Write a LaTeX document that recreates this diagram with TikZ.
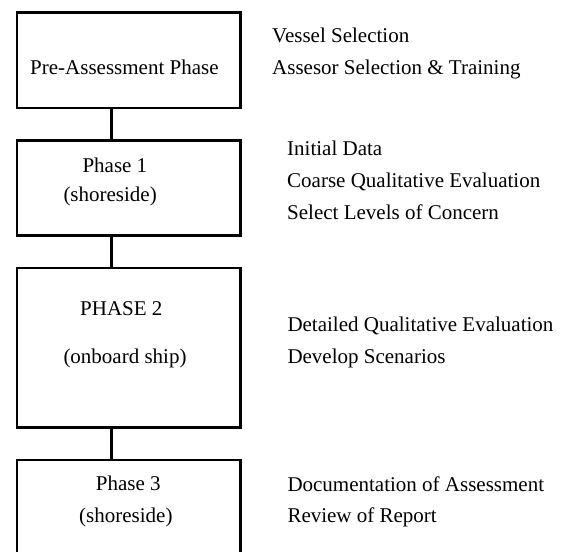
\documentclass[tikz,border=0pt]{standalone}
\usepackage{fontspec}
\setmainfont{Liberation Serif}
\begin{document}
\begin{tikzpicture}[x=1pt,y=-1pt,
  box/.style={draw, line width=2.5pt, inner sep=0pt, minimum width=223.8pt, anchor=north west},
  txt/.style={inner sep=0pt, anchor=base west, font=\fontsize{21}{25}\selectfont},
  link/.style={line width=2.5pt}]
\useasboundingbox (0,0) rectangle (566,552);
\node[box, minimum height=95.5pt] (b1) at (15.5,11) {};
\node[box, minimum height=95.3pt] (b2) at (15.5,139) {};
\node[box, minimum height=159.6pt] (b3) at (15.5,266.7) {};
\node[box, minimum height=110pt] (b4) at (15.5,458.7) {};
\coordinate (cx) at (111.3,0);
\draw[link] (b1.south -| cx) -- (b2.north -| cx);
\draw[link] (b2.south -| cx) -- (b3.north -| cx);
\draw[link] (b3.south -| cx) -- (b4.north -| cx);
% box texts
\node[txt] (t1) at (30,74) {Pre-Assessment Phase};
\node[txt] (t2a) at (82.3,172) {Phase 1};
\node[txt] (t2b) at (63.3,201.7) {(shoreside)};
\node[txt] (t3a) at (80,315.7) {PHASE 2};
\node[txt] (t3b) at (63.3,363.3) {(onboard ship)};
\node[txt] (t4a) at (95.7,490.3) {Phase 3};
\node[txt] (t4b) at (79,522) {(shoreside)};
% side texts
\node[txt] (s1a) at (272,42.7) {Vessel Selection};
\node[txt] (s1b) at (272,74.7) {Assesor Selection \& Training};
\node[txt] (s2a) at (287,155) {Initial Data};
\node[txt] (s2b) at (287,187) {Coarse Qualitative Evaluation};
\node[txt] (s2c) at (287,219) {Select Levels of Concern};
\node[txt] (s3a) at (287.3,331.3) {Detailed Qualitative Evaluation};
\node[txt] (s3b) at (287.3,363.3) {Develop Scenarios};
\node[txt] (s4a) at (287.3,491) {Documentation of Assessment};
\node[txt] (s4b) at (287.3,522.7) {Review of Report};
\end{tikzpicture}
\end{document}
